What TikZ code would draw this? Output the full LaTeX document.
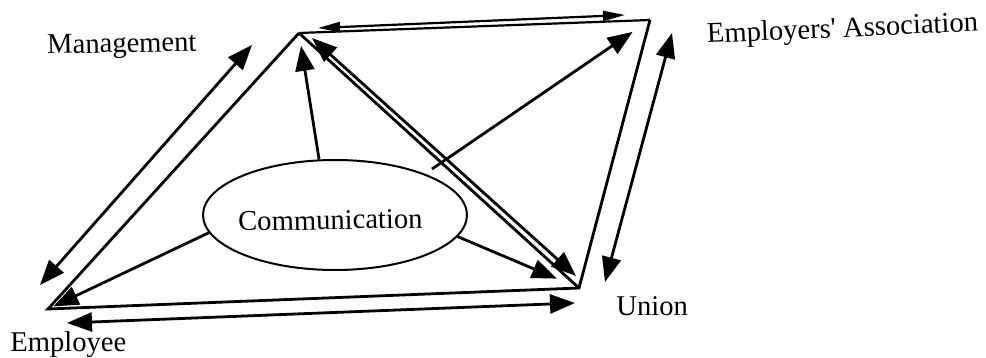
\documentclass[tikz,border=0pt]{standalone}
\usepackage{fontspec}
\setmainfont{Liberation Serif}
\usetikzlibrary{arrows.meta,shapes.geometric}

\begin{document}
\begin{tikzpicture}[x=0.5pt,y=-0.5pt,
  edge/.style={line width=1.4pt, line join=miter},
  thinedge/.style={line width=1.1pt},
  arr/.style={line width=1.4pt, -{Triangle[length=12.5pt,width=9.5pt]}},
  biarr/.style={line width=1.4pt, {Triangle[length=12.5pt,width=9.5pt]}-{Triangle[length=12.5pt,width=9.5pt]}},
  slimbi/.style={line width=1.1pt, {Triangle[length=11pt,width=5pt]}-{Triangle[length=11pt,width=5pt]}},
  lbl/.style={font=\fontsize{14.3}{16}\selectfont, inner sep=0pt, anchor=base west}]
\useasboundingbox (0,0) rectangle (986,358);
\clip (0,0) rectangle (986,358);

% corners of the relationship frame
\coordinate (M)  at (299,33);
\coordinate (EA) at (650,20);
\coordinate (U)  at (579,288);
\coordinate (E)  at (48,309);

% labels
\node[lbl, rotate=1.2] (lm)  at (47,54)  {Management};
\node[lbl, rotate=2.5] (lea) at (707,43) {Employers\textquotesingle{} Association};
\node[lbl] (lu) at (616,315) {Union};
\node[lbl] (le) at (10,351)  {Employee};

% central ellipse
\node[draw, ellipse, line width=1pt, minimum width=132pt, minimum height=55pt, inner sep=0pt] (comm) at (335,215) {};
\node[lbl, rotate=1] (commtext) at (238,231) {Communication};

% frame and diagonal
\draw[edge] (EA) -- (U) -- (E) -- (M);
\draw[thinedge] (M) -- (EA);
\draw[edge] (M) -- (U);

% two-way arrows beside the frame
\coordinate (la1) at (252,45);  \coordinate (la2) at (40,285);
\coordinate (ra1) at (672,33);  \coordinate (ra2) at (605,282);
\coordinate (ba1) at (67,323);  \coordinate (ba2) at (575,303);
\coordinate (ta1) at (318,28);  \coordinate (ta2) at (625,15);
\coordinate (da1) at (312,38);  \coordinate (da2) at (576,276);
\draw[biarr] (la1) -- (la2);
\draw[biarr] (ra1) -- (ra2);
\draw[biarr] (ba1) -- (ba2);
\draw[slimbi] (ta1) -- (ta2);
\draw[biarr] (da1) -- (da2);

% communication flows
\coordinate (cs) at (432,169);
\draw[arr, shorten >=6.5pt] (comm.106) -- (M);
\draw[arr, shorten >=3pt] (comm.188) -- (E);
\draw[arr, shorten >=12pt] (comm.350) -- (U);
\draw[arr, shorten >=10.5pt] (cs) -- (EA);
\end{tikzpicture}
\end{document}
